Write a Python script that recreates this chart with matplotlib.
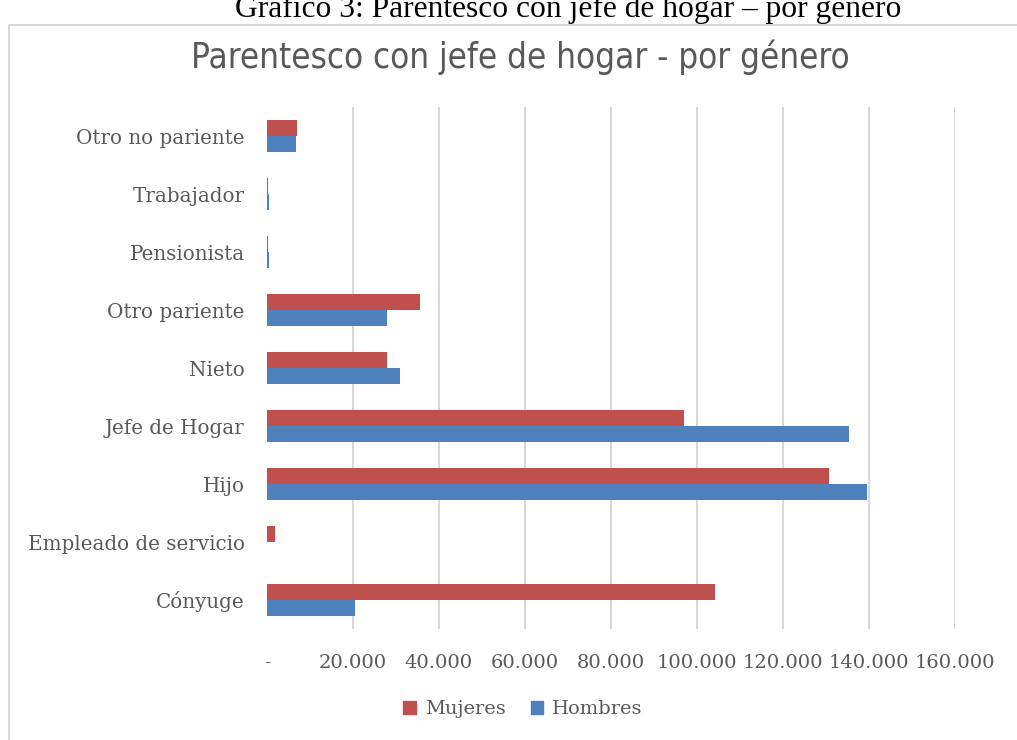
import matplotlib
matplotlib.use("Agg")
import matplotlib.pyplot as plt
from matplotlib.patches import Rectangle, Patch
import numpy as np

categories = ["Cónyuge", "Empleado de servicio", "Hijo", "Jefe de Hogar", "Nieto",
              "Otro pariente", "Pensionista", "Trabajador", "Otro no pariente"]
mujeres = [104300, 1950, 130800, 97000, 27900, 35600, 300, 150, 6900]
hombres = [20400, 100, 139700, 135500, 30900, 27900, 400, 350, 6800]
xticks = [0, 20000, 40000, 60000, 80000, 100000, 120000, 140000, 160000]
xticklabels = ["-", "20.000", "40.000", "60.000", "80.000", "100.000", "120.000", "140.000", "160.000"]

RED = "#C0504D"
BLUE = "#4F81BD"
GRID = "#D9D9D9"
TXT = "#595959"
SERIF = ["DejaVu Serif"]

fig = plt.figure(figsize=(10.17, 7.40), dpi=100)
ax = fig.add_axes([267 / 1017, 1 - 629 / 740, (954.7 - 267) / 1017, (629 - 107) / 740])

y = np.arange(len(categories))
h = 0.27
ax.barh(y + h / 2, mujeres, height=h, color=RED, label="Mujeres", zorder=3)
ax.barh(y - h / 2, hombres, height=h, color=BLUE, label="Hombres", zorder=3)

for v in xticks[1:]:
    ax.axvline(v, color=GRID, lw=1.5, zorder=1)

ax.set_xlim(0, 160000)
ax.set_ylim(-0.5, len(categories) - 0.5)
ax.set_yticks(y)
ax.set_yticklabels(categories, fontfamily=SERIF, fontsize=14.3, color=TXT)
ax.set_xticks(xticks)
ax.set_xticklabels(xticklabels, fontfamily=SERIF, fontsize=14, color=TXT)
ax.tick_params(axis="both", length=0)
ax.tick_params(axis="x", pad=18)
ax.tick_params(axis="y", pad=16)
for s in ax.spines.values():
    s.set_visible(False)

# outer chart frame (cropped)
fig.add_artist(Rectangle((9 / 1017, -0.1), 1.2, 1.1 - 25 / 740, transform=fig.transFigure,
                         fill=False, edgecolor=GRID, lw=1.5, clip_on=False))

# document caption (cut off at the top, as in the source page)
fig.text(568 / 1017, 1 - 17 / 740, "Gráfico 3: Parentesco con jefe de hogar – por género",
         ha="center", va="baseline", fontfamily=["Liberation Serif", "DejaVu Serif"],
         fontsize=22.7, color="black")

fig.text(520 / 1017, 1 - 57 / 740, "Parentesco con jefe de hogar - por género",
         ha="center", va="center", fontfamily=["DejaVu Sans"], fontstretch="condensed",
         fontsize=25, color=TXT)

handles = [Patch(color=RED, label="Mujeres"), Patch(color=BLUE, label="Hombres")]
fig.legend(handles=handles, loc="center", bbox_to_anchor=(523 / 1017, 1 - 709 / 740), ncol=2,
           frameon=False, prop={"family": SERIF, "size": 14}, labelcolor=TXT,
           handlelength=0.65, handleheight=0.65, handletextpad=0.45, columnspacing=1.3)

fig.savefig("out.png", dpi=100)
